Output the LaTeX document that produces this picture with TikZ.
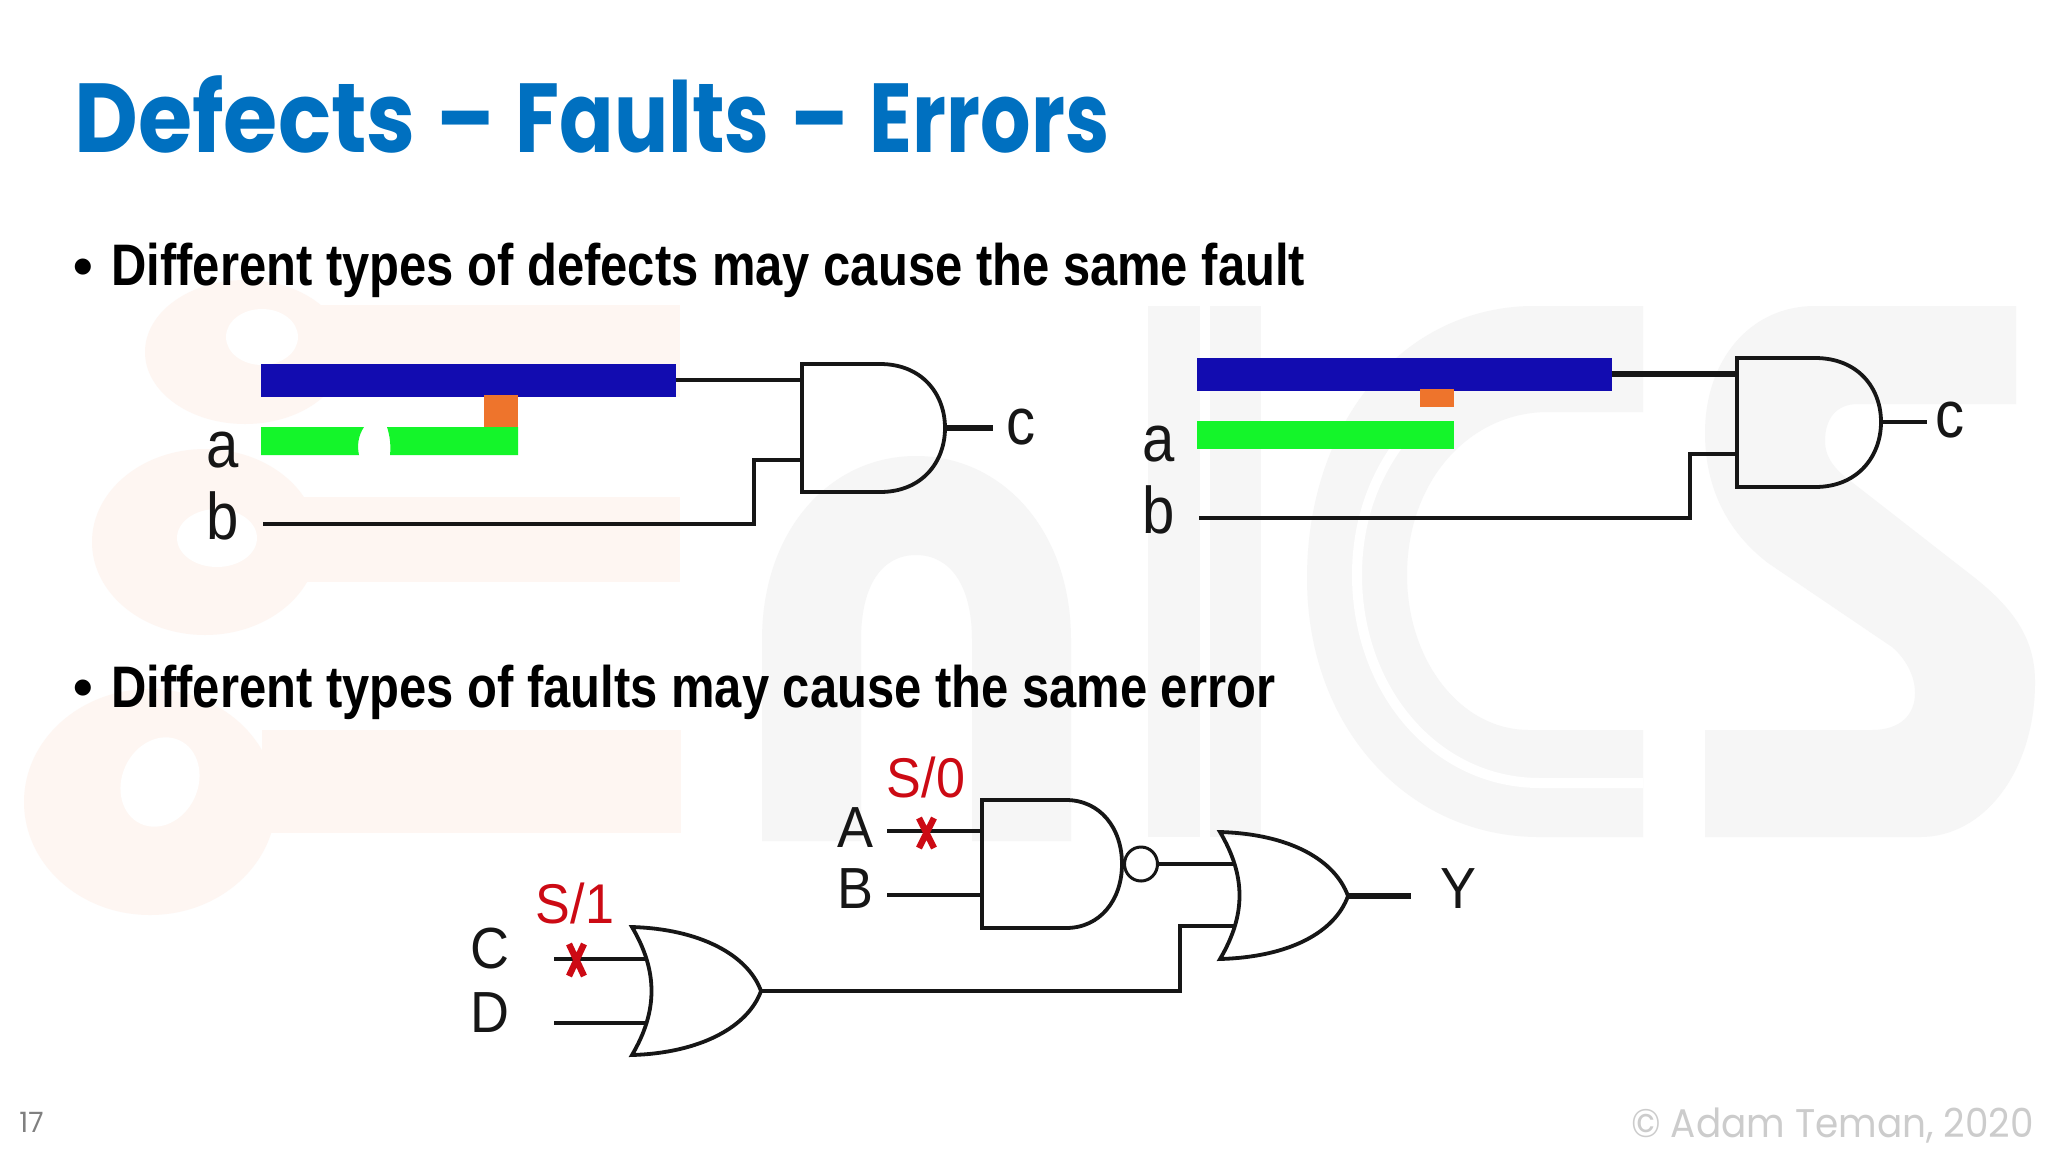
\documentclass[tikz,border=0pt]{standalone}
\usepackage{fontspec}
\usepackage{graphicx}
\usetikzlibrary{shapes.geometric}
\setmainfont{Liberation Sans}
\newfontfamily\titlefont{Poppins}
\definecolor{wpink}{HTML}{FEF6F2}
\definecolor{wgray}{HTML}{F6F6F6}
\definecolor{titleblue}{HTML}{0070C0}
\definecolor{metalblue}{HTML}{120CB0}
\definecolor{metalgreen}{HTML}{14F52A}
\definecolor{viaorange}{HTML}{EE742C}
\definecolor{faultred}{HTML}{CC0A14}
\definecolor{inkdark}{HTML}{161616}
\tikzset{
  wire/.style={draw=inkdark,line width=1.8pt,line join=miter},
  thickwire/.style={draw=inkdark,line width=3pt},
  gateline/.style={draw=inkdark,line width=1.9pt,line join=miter},
  signal/.style={font=\fontsize{33}{36}\selectfont,text=inkdark,anchor=base,inner sep=0pt},
  capsignal/.style={font=\fontsize{29}{32}\selectfont,text=inkdark,anchor=base,inner sep=0pt},
  faultlabel/.style={font=\fontsize{28}{32}\selectfont,text=faultred,anchor=base,inner sep=0pt},
  faultx/.style={draw=faultred,line width=3.2pt},
  bullettext/.style={font=\fontsize{29.3}{32}\selectfont\bfseries,anchor=base west,inner sep=0pt},
  bulletdot/.style={font=\fontsize{28}{32}\selectfont\bfseries,anchor=base,inner sep=0pt},
  bar/.style={inner sep=0pt,outer sep=0pt,minimum height=#1},
}
\newcommand{\nrw}[1]{\scalebox{0.88}[1]{#1}}
\newcommand{\ncap}[1]{\scalebox{0.93}[1]{#1}}
\begin{document}
\begin{tikzpicture}[x=0.5pt,y=-0.5pt]
\useasboundingbox (0,0) rectangle (2048,1152);
\fill[white] (0,0) rectangle (2048,1152);
% watermark: pink
\fill[wpink] (245,352) ellipse [x radius=100,y radius=72];
\fill[wpink] (300,305) rectangle (680,397);
\fill[wpink] (205,542) ellipse [x radius=113,y radius=93];
\fill[wpink] (290,497) rectangle (680,582);
\fill[wpink] (150,802) ellipse [x radius=126,y radius=113];
\fill[wpink] (262,730) rectangle (681,833);
\fill[white] (262,337) ellipse [x radius=36,y radius=28];
\fill[white] (217,538) ellipse [x radius=40,y radius=29];
\fill[white, rotate around={-25:(160,782)}] (160,782) ellipse [x radius=38,y radius=46];
% watermark: gray n, i, c, s
\fill[wgray] (762,841) -- (762,640) .. controls (762,530) and (830,456) .. (916,456)
  .. controls (1002,456) and (1071,530) .. (1071,640) -- (1071,841) -- (972,841) -- (972,640)
  .. controls (972,585) and (950,555) .. (916,555) .. controls (882,555) and (861,585) .. (861,640)
  -- (861,841) -- cycle;
\fill[wgray] (1148,306) rectangle (1200,837);
\fill[wgray] (1210,306) rectangle (1261,837);
\fill[wgray] (1643,306) -- (1529,306) .. controls (1395,310) and (1307,430) .. (1307,578)
  .. controls (1307,730) and (1410,837) .. (1539,837) -- (1643,837) -- (1643,730) -- (1529,730)
  .. controls (1460,730) and (1407,660) .. (1407,575) .. controls (1407,480) and (1470,412) .. (1548,412)
  -- (1643,412) -- cycle;
\draw[white,line width=5pt] (1643,783) -- (1540,783) .. controls (1435,783) and (1357,690) .. (1357,575)
  .. controls (1357,520) and (1375,470) .. (1410,430);
\fill[wgray] (2016,306) -- (2016,404) -- (1858,404) .. controls (1835,404) and (1825,420) .. (1825,441)
  .. controls (1825,460) and (1838,472) .. (1853,483) -- (1975,578) .. controls (2015,610) and (2035,640) .. (2035,682)
  .. controls (2035,770) and (1985,837) .. (1920,837) -- (1705,837) -- (1705,730) -- (1872,730)
  .. controls (1900,730) and (1915,715) .. (1915,693) .. controls (1915,675) and (1905,658) .. (1892,647)
  -- (1768,563) .. controls (1725,530) and (1705,485) .. (1705,433) .. controls (1705,360) and (1750,306) .. (1815,306) -- cycle;
% title and bullets
\node (title) [anchor=base west,inner sep=0pt,text=titleblue,font=\titlefont\bfseries\fontsize{49}{54}\selectfont] at (74,152) {\scalebox{0.896}[1]{Defects}\hspace{1.5pt}\scalebox{0.858}[1]{ – }\hspace{1.5pt}\scalebox{0.82}[1]{Faults}\hspace{1.5pt}\scalebox{0.858}[1]{ – }\hspace{1.5pt}\scalebox{0.809}[1]{Errors}};
\node (b1) [bulletdot] at (83,285) {•};
\node (t1) [bullettext] at (111,285) {\scalebox{0.835}[1]{Different types of defects may cause the same fault}};
\node (b2) [bulletdot] at (83,706) {•};
\node (t2) [bullettext] at (111,707) {\scalebox{0.835}[1]{Different types of faults may cause the same error}};
% left circuit
\node (m1) [bar=16.5pt,fill=metalblue,minimum width=207.5pt,anchor=west] at (261,380.5) {};
\fill[viaorange] (483.5,395) rectangle (518,427);
\fill[metalgreen] (261,427) -- (364,427) .. controls (358,436) and (357,446) .. (359,455) -- (261,455) -- cycle;
\fill[metalgreen] (387,427) .. controls (390,436) and (391,446) .. (390,455) -- (518,455) -- (518,427) -- cycle;
\draw[gateline] (802,364) -- (880,364) .. controls (922,364) and (945,394) .. (945,428) .. controls (945,462) and (922,492) .. (880,492) -- (802,492) -- cycle;
\coordinate (g1a) at (802,380);
\coordinate (g1b) at (802,460);
\coordinate (g1o) at (945,428);
\coordinate (c1) at (993,428);
\coordinate (b1w) at (263,524);
\node (a1l) [signal] at (223,467) {\nrw{a}};
\node (b1l) [signal] at (223,539) {\nrw{b}};
\node (c1l) [signal] at (1021,444) {\nrw{c}};
\draw[wire] (m1.east |- g1a) -- (g1a);
\draw[wire] (b1w) -| (754,460) -- (g1b);
\draw[thickwire] (g1o) -- (c1);
% right circuit
\node (m2) [bar=16.5pt,fill=metalblue,minimum width=207.25pt,anchor=west] at (1197,374.5) {};
\fill[viaorange] (1420,389) rectangle (1454,407);
\node (g2m) [bar=14pt,fill=metalgreen,minimum width=128.5pt,anchor=west] at (1197,435) {};
\draw[gateline] (1737,358) -- (1815,358) .. controls (1858,358) and (1881,388) .. (1881,422) .. controls (1881,456) and (1858,487) .. (1815,487) -- (1737,487) -- cycle;
\coordinate (g2a) at (1737,374);
\coordinate (g2b) at (1737,454);
\coordinate (g2o) at (1881,422);
\coordinate (c2) at (1927,422);
\coordinate (b2w) at (1199,518);
\node (a2l) [signal] at (1159,461) {\nrw{a}};
\node (b2l) [signal] at (1159,533) {\nrw{b}};
\node (c2l) [signal] at (1950,437) {\nrw{c}};
\draw[thickwire] (m2.east |- g2a) -- (g2a);
\draw[wire] (b2w) -| (1690,454) -- (g2b);
\draw[wire] (g2o) -- (c2);
% lower circuit
\draw[gateline] (982,800) -- (1066,800) .. controls (1100,800) and (1122,828) .. (1122,864) .. controls (1122,900) and (1100,928) .. (1066,928) -- (982,928) -- cycle;
\node (bub) [draw=inkdark,line width=1.5pt,ellipse,minimum width=16.5pt,minimum height=17pt,inner sep=0pt] at (1141,864) {};
\draw[gateline] (1220,832) .. controls (1290,834) and (1335,860) .. (1348,896) .. controls (1335,932) and (1290,957) .. (1220,959) .. controls (1246,915) and (1246,876) .. (1220,832) -- cycle;
\draw[gateline] (632,927) .. controls (700,929) and (748,955) .. (761,991) .. controls (748,1027) and (700,1053) .. (632,1055) .. controls (658,1011) and (658,971) .. (632,927) -- cycle;
\coordinate (nA) at (982,831);
\coordinate (nB) at (982,895);
\coordinate (wA) at (887,831);
\coordinate (wB) at (887,895);
\coordinate (o2a) at (1234,864);
\coordinate (o2b) at (1234,926);
\coordinate (o2o) at (1348,896);
\coordinate (wY) at (1411,896);
\coordinate (o1a) at (648,959);
\coordinate (o1b) at (648,1023);
\coordinate (o1o) at (761,991);
\coordinate (wC) at (554,959);
\coordinate (wD) at (554,1023);
\node (Al) [capsignal] at (855,847) {\ncap{A}};
\node (Bl) [capsignal] at (855,908) {\ncap{B}};
\node (Cl) [capsignal] at (490,968) {\ncap{C}};
\node (Dl) [capsignal] at (490,1032) {\ncap{D}};
\node (Yl) [capsignal] at (1458,908) {\ncap{Y}};
\node (S0) [faultlabel] at (926,797) {\ncap{S/0}};
\node (S1) [faultlabel] at (575,923) {\ncap{S/1}};
\draw[wire] (wA) -- (nA);
\draw[wire] (wB) -- (nB);
\draw[wire] (bub.east) -- (o2a);
\draw[wire] (wC) -- (o1a);
\draw[wire] (wD) -- (o1b);
\draw[wire] (o1o) -| (1180,926) -- (o2b);
\draw[thickwire] (o2o) -- (wY);
\draw[faultx] (919,818) -- (934,848) (934,818) -- (919,848);
\draw[faultx] (569,944) -- (584,976) (584,944) -- (569,976);
% footer
\node (pg) [anchor=base west,inner sep=0pt,text=black!50,font=\titlefont\fontsize{14}{16}\selectfont] at (19,1132) {17};
\node (copy) [anchor=base east,inner sep=0pt,text=black!20,font=\titlefont\fontsize{20}{24}\selectfont] at (2034,1137) {\scalebox{0.935}[1]{© Adam Teman, 2020}};
\end{tikzpicture}
\end{document}
